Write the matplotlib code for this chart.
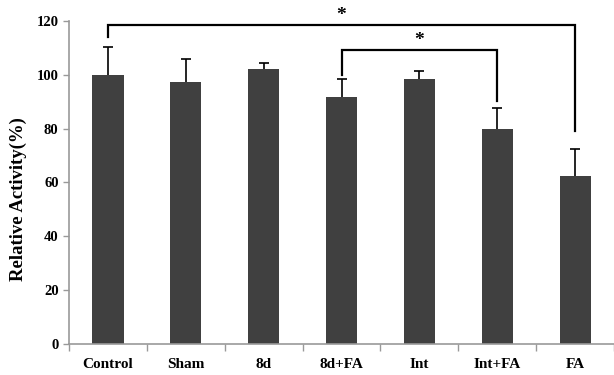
import numpy as np
import matplotlib.pyplot as plt

groups = ['Control', 'Sham', '8d', '8d+FA', 'Int', 'Int+FA', 'FA']
activity = [100, 97.4, 102.1, 91.8, 98.3, 80.0, 62.5]
err = [10.3, 8.3, 2.4, 6.6, 3.2, 7.8, 9.9]

# significance brackets: (left group, right group, bar height, left leg end, right leg end)
brackets = [(0, 6, 118.5, 114.2, 79.1), (3, 5, 109.3, 99.9, 90.3)]

plt.rcParams['font.family'] = ['Liberation Serif', 'DejaVu Serif']
plt.rcParams['font.weight'] = 'bold'

fig = plt.figure(figsize=(6.14, 3.75), dpi=100)
ax = fig.add_axes([0.1124, 0.0827, 0.8876, 0.8613])

x = np.arange(len(groups))
# error bars sit behind the bars so only the upper half shows
ax.errorbar(x, activity, yerr=err, fmt='none', ecolor='black',
            elinewidth=1.2, capsize=3.6, capthick=1.2, zorder=1)
ax.bar(x, activity, width=0.4, color='#404040', zorder=2)

for a, b, h, ya, yb in brackets:
    ax.plot([a, a, b, b], [ya, h, h, yb], color='black', lw=1.6,
            clip_on=False, solid_joinstyle='miter', zorder=4)
    ax.text((a + b) / 2, h + 0.3, '*', ha='center', va='bottom',
            fontsize=14, fontweight='bold')

ax.set_xlim(-0.5, 6.416)
ax.set_ylim(0, 120)
ax.set_yticks(range(0, 121, 20))
ax.set_xticks(x)
ax.set_xticklabels(groups)
ax.set_xticks(np.arange(-0.5, 7, 1), minor=True)
ax.tick_params(axis='x', which='major', length=0, pad=10, labelsize=11)
ax.tick_params(axis='x', which='minor', length=5, color='#999999', width=1)
ax.tick_params(axis='y', length=4, color='#999999', width=1, labelsize=10.5)

for s in ['top', 'right']:
    ax.spines[s].set_visible(False)
for s in ['left', 'bottom']:
    ax.spines[s].set_color('#999999')
    ax.spines[s].set_linewidth(1.2)

ax.set_ylabel('Relative Activity(%)', fontsize=13.5, fontweight='bold')
ax.yaxis.set_label_coords(-0.078, 0.45)

fig.savefig('out.png', dpi=100)
